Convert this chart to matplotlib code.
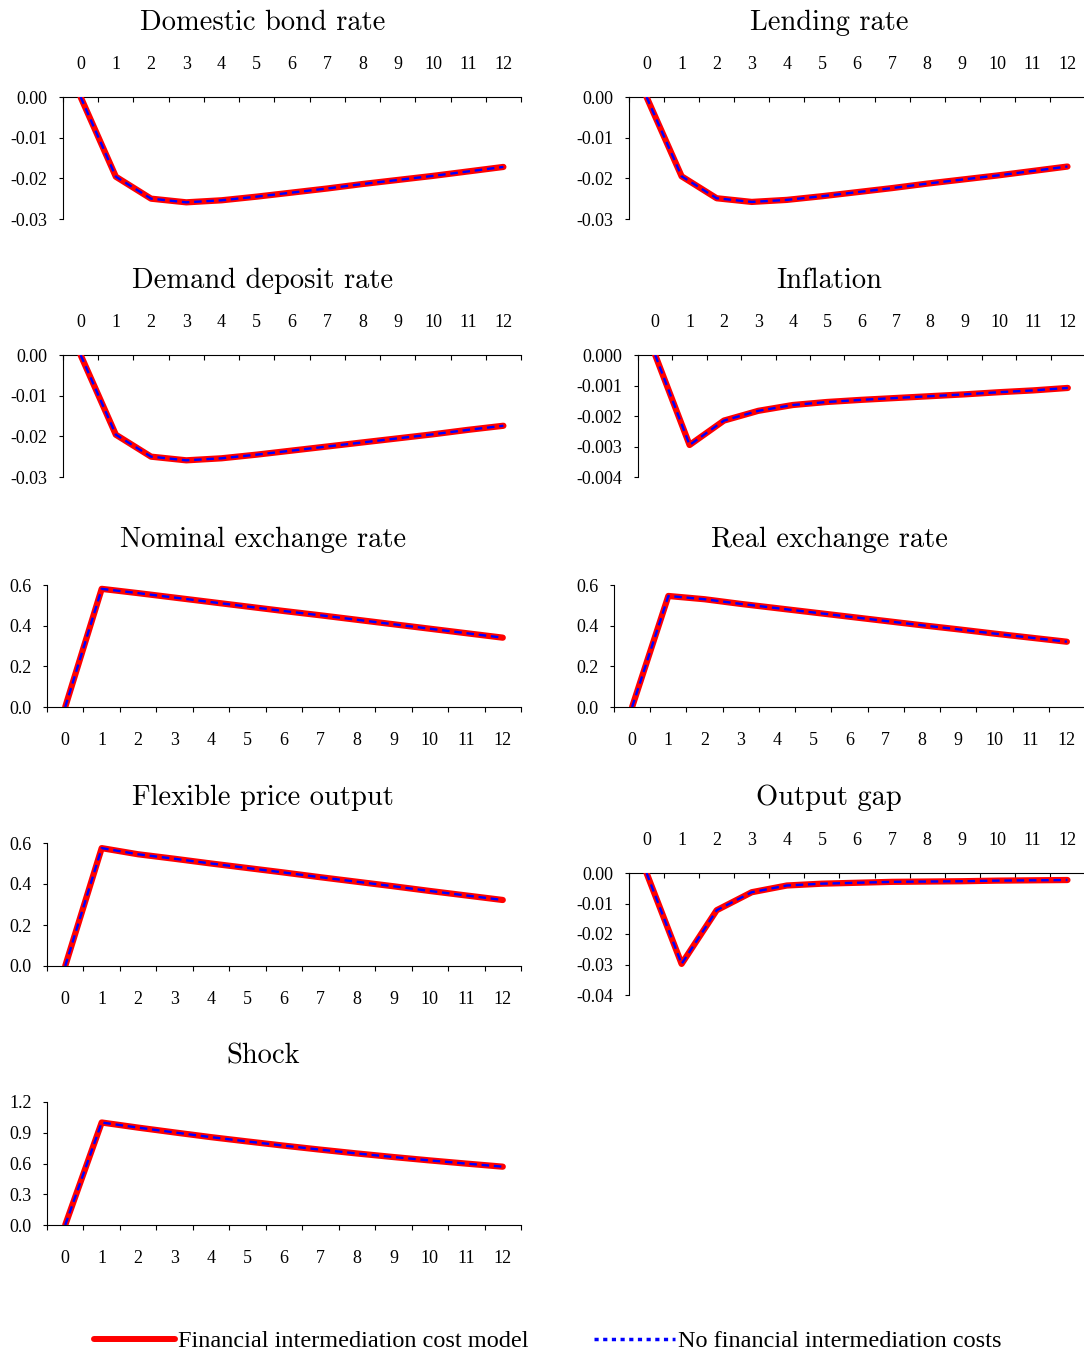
import matplotlib
matplotlib.use("Agg")
import matplotlib.pyplot as plt
from matplotlib.lines import Line2D
from matplotlib.ticker import FormatStrFormatter, NullFormatter
import numpy as np

plt.rcParams['font.family'] = 'Liberation Serif'
plt.rcParams['axes.unicode_minus'] = False

periods = list(range(13))

# impulse responses, the model with and without intermediation costs coincide
domestic_bond = [0.0, -0.0196, -0.0250, -0.0259, -0.0254, -0.0245, -0.0235, -0.0225, -0.0214, -0.0204, -0.0194, -0.0183, -0.0172]
lending = [0.0, -0.0195, -0.0249, -0.0258, -0.0253, -0.0244, -0.0234, -0.0224, -0.0213, -0.0203, -0.0193, -0.0182, -0.0171]
deposit = [0.0, -0.0196, -0.0250, -0.0259, -0.0254, -0.0245, -0.0235, -0.0225, -0.0215, -0.0205, -0.0195, -0.0184, -0.0174]
inflation = [0.0, -0.00295, -0.00215, -0.00183, -0.00164, -0.00154, -0.00147, -0.00141, -0.00135, -0.00129, -0.00122, -0.00116, -0.00108]
nominal_fx = [0.0, 0.581, 0.560, 0.538, 0.516, 0.494, 0.472, 0.451, 0.429, 0.407, 0.385, 0.363, 0.341]
real_fx = [0.0, 0.546, 0.530, 0.507, 0.486, 0.465, 0.444, 0.423, 0.402, 0.382, 0.361, 0.341, 0.321]
flex_output = [0.0, 0.575, 0.545, 0.523, 0.500, 0.478, 0.456, 0.433, 0.411, 0.389, 0.366, 0.344, 0.322]
output_gap = [0.0, -0.0298, -0.0122, -0.0063, -0.0041, -0.0035, -0.0032, -0.0029, -0.0028, -0.0027, -0.0025, -0.0024, -0.0023]
shock = [0.0, 1.0, 0.950, 0.903, 0.857, 0.815, 0.774, 0.735, 0.698, 0.663, 0.630, 0.599, 0.569]

W, H = 1084, 1356
fig = plt.figure(figsize=(W / 100, H / 100), dpi=100)

RED = '#ff0000'
BLUE = '#0000ff'


def panel(box, title, title_xy, values, yticks, fmt):
    x0, x1, ytop, ybot = box
    ax = fig.add_axes([x0 / W, 1 - ybot / H, (x1 - x0) / W, (ybot - ytop) / H])
    ax.plot(periods, values, color=RED, lw=4.5, solid_capstyle='round', zorder=3)
    ax.plot(periods, values, color=BLUE, lw=1.7, linestyle=(0, (3.2, 2.0)), zorder=4)
    ax.set_xlim(-0.5, 12.5)
    ax.set_ylim(yticks[0], yticks[-1])
    ax.set_yticks(yticks)
    ax.yaxis.set_major_formatter(FormatStrFormatter(fmt))
    ax.tick_params(axis='y', direction='out', length=3, width=0.8, pad=8, labelsize=13)

    # category axis: marks between periods, labels on the periods
    ax.set_xticks(np.arange(-0.5, 13, 1))
    ax.xaxis.set_major_formatter(NullFormatter())
    ax.set_xticks(periods, minor=True)
    ax.set_xticklabels([str(p) for p in periods], minor=True)
    ax.tick_params(axis='x', which='major', length=3.5, width=0.8)
    ax.tick_params(axis='x', which='minor', length=0, labelsize=13)

    ax.spines['right'].set_visible(False)
    for s in ax.spines.values():
        s.set_linewidth(0.8)

    if yticks[-1] == 0:
        # negative response: period axis runs along the top
        ax.spines['bottom'].set_visible(False)
        ax.xaxis.set_ticks_position('top')
        ax.tick_params(axis='x', which='major', direction='in')
        ax.tick_params(axis='x', which='minor', pad=17, labeltop=True, labelbottom=False)
    else:
        ax.spines['top'].set_visible(False)
        ax.xaxis.set_ticks_position('bottom')
        ax.tick_params(axis='x', which='major', direction='out')
        ax.tick_params(axis='x', which='minor', pad=18, labelbottom=True, labeltop=False)

    fig.text(title_xy[0] / W, 1 - title_xy[1] / H, title, family='cmr10',
             fontsize=20.5, ha='center', va='baseline')
    return ax


neg3 = [-0.03, -0.02, -0.01, 0.0]
pos6 = [0.0, 0.2, 0.4, 0.6]

panel((63, 521, 97, 219), 'Domestic bond rate', (263, 30), domestic_bond, neg3, '%.2f')
panel((629, 1085, 97, 219), 'Lending rate', (829, 30), lending, neg3, '%.2f')
panel((63, 521, 355, 477), 'Demand deposit rate', (263, 288), deposit, neg3, '%.2f')
panel((638, 1085, 355, 477), 'Inflation', (829, 288), inflation,
      [-0.004, -0.003, -0.002, -0.001, 0.0], '%.3f')
panel((47, 521, 585, 707), 'Nominal exchange rate', (263, 547), nominal_fx, pos6, '%.1f')
panel((614, 1085, 585, 707), 'Real exchange rate', (829, 547), real_fx, pos6, '%.1f')
panel((47, 521, 843, 966), 'Flexible price output', (263, 805), flex_output, pos6, '%.1f')
panel((629, 1085, 873, 995), 'Output gap', (829, 805), output_gap,
      [-0.04, -0.03, -0.02, -0.01, 0.0], '%.2f')
panel((47, 521, 1102, 1225), 'Shock', (263, 1064), shock,
      [0.0, 0.3, 0.6, 0.9, 1.2], '%.1f')

handles = [
    Line2D([], [], color=RED, lw=4.3, solid_capstyle='round'),
    Line2D([], [], color=BLUE, lw=2.5, linestyle=(0, (1.2, 1.3))),
]
fig.legend(handles, ['Financial intermediation cost model', 'No financial intermediation costs'],
           loc='center', bbox_to_anchor=(548 / W, 1 - 1341 / H), ncol=2, frameon=False,
           fontsize=17.5, handlelength=3.3, handletextpad=0.15, columnspacing=2.7)

fig.savefig('out.png', dpi=100)
